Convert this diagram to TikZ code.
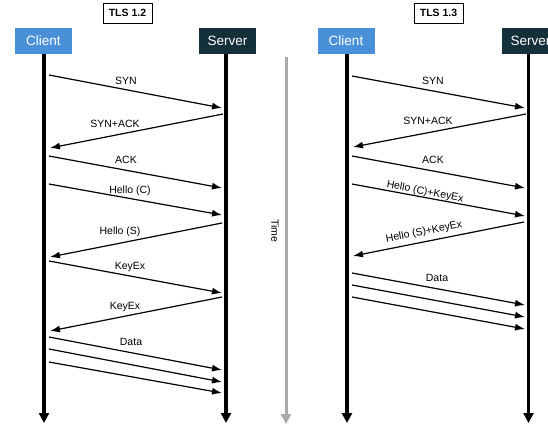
\documentclass[tikz,border=0pt]{standalone}
\usepackage{fontspec}
\setmainfont{Liberation Sans}
\usetikzlibrary{arrows.meta}
\definecolor{cblue}{HTML}{4A90D9}
\definecolor{sdark}{HTML}{14303A}
\definecolor{tgray}{HTML}{AAAAAA}
\tikzset{
  actor/.style={minimum width=57pt, minimum height=26pt, inner sep=0pt, text=white, font=\fontsize{13.5}{15}\selectfont},
  cbox/.style={actor, fill=cblue},
  sbox/.style={actor, fill=sdark},
  title/.style={draw, line width=0.8pt, minimum width=49pt, minimum height=20pt, inner sep=0pt, font=\bfseries\fontsize{10.5}{12}\selectfont},
  life/.style={line width=3.6pt, -{Triangle[length=10pt,width=10pt]}},
  msg/.style={line width=1.2pt, -{Latex[length=10pt,width=7pt]}},
  lbl/.style={font=\fontsize{10.5}{12}\selectfont, inner sep=0pt},
}
\begin{document}
\begin{tikzpicture}[x=1pt,y=-1pt]
\useasboundingbox (0,0) rectangle (548,440);
\clip (0,0) rectangle (548,440);
% ---------- TLS 1.2 ----------
\node[title] (t12) at (127.5,13) {TLS 1.2};
\node[cbox] (c1) at (43.5,41) {Client};
\node[sbox] (s1) at (227.5,41) {Server};
\coordinate (c1e) at (44,423);
\coordinate (s1e) at (226,423);
\draw[life] (c1.south -| c1e) -- (c1e);
\draw[life] (s1.south -| s1e) -- (s1e);
% time
\coordinate (ts) at (286,57);
\coordinate (te) at (286,424);
\draw[line width=3pt, tgray, -{Triangle[length=10pt,width=10pt]}] (ts) -- (te);
\node[lbl, rotate=-90] (time) at (275,231) {Time};
% messages left
\coordinate (a1) at (49,75);  \coordinate (b1) at (222,108);
\coordinate (b2) at (223,114); \coordinate (a2) at (50,148);
\coordinate (a3) at (49,156); \coordinate (b3) at (222,188);
\coordinate (a4) at (49,184); \coordinate (b4) at (222,215);
\coordinate (b5) at (222,223); \coordinate (a5) at (50,257);
\coordinate (a6) at (49,261); \coordinate (b6) at (222,293);
\coordinate (b7) at (222,297); \coordinate (a7) at (50,331);
\coordinate (a8) at (49,337); \coordinate (b8) at (222,370);
\coordinate (a9) at (49,349); \coordinate (b9) at (222,382);
\coordinate (a10) at (49,362); \coordinate (b10) at (222,393);
\draw[msg] (a1) -- (b1);
\draw[msg] (b2) -- (a2);
\draw[msg] (a3) -- (b3);
\draw[msg] (a4) -- (b4);
\draw[msg] (b5) -- (a5);
\draw[msg] (a6) -- (b6);
\draw[msg] (b7) -- (a7);
\draw[msg] (a8) -- (b8);
\draw[msg] (a9) -- (b9);
\draw[msg] (a10) -- (b10);
\node[lbl] (l1) at (126,81) {SYN};
\node[lbl] (l2) at (115,124) {SYN+ACK};
\node[lbl] (l3) at (126,160) {ACK};
\node[lbl] (l4) at (130,191) {Hello (C)};
\node[lbl] (l5) at (120,232) {Hello (S)};
\node[lbl] (l6) at (130,267) {KeyEx};
\node[lbl] (l7) at (125,307) {KeyEx};
\node[lbl] (l8) at (131,342) {Data};
% ---------- TLS 1.3 ----------
\node[title] (t13) at (438.5,13) {TLS 1.3};
\node[cbox] (c2) at (346,41) {Client};
\node[sbox] (s2) at (530.5,41) {Server};
\coordinate (c2e) at (347,423);
\coordinate (s2e) at (528.5,423);
\draw[life] (c2.south -| c2e) -- (c2e);
\draw[life] (s2.south -| s2e) -- (s2e);
\coordinate (p1) at (352,76);  \coordinate (q1) at (525,108);
\coordinate (q2) at (526,114); \coordinate (p2) at (353,147);
\coordinate (p3) at (352,156); \coordinate (q3) at (525,188);
\coordinate (p4) at (352,184); \coordinate (q4) at (525,216);
\coordinate (q5) at (524,222); \coordinate (p5) at (353,256);
\coordinate (p6) at (352,273); \coordinate (q6) at (525,305);
\coordinate (p7) at (352,285); \coordinate (q7) at (525,317);
\coordinate (p8) at (352,297); \coordinate (q8) at (525,329);
\draw[msg] (p1) -- (q1);
\draw[msg] (q2) -- (p2);
\draw[msg] (p3) -- (q3);
\draw[msg] (p4) -- (q4);
\draw[msg] (q5) -- (p5);
\draw[msg] (p6) -- (q6);
\draw[msg] (p7) -- (q7);
\draw[msg] (p8) -- (q8);
\node[lbl] (m1) at (433,81) {SYN};
\node[lbl] (m2) at (428,121) {SYN+ACK};
\node[lbl] (m3) at (433,160) {ACK};
\node[lbl, rotate=-11] (m4) at (425,192) {Hello (C)+KeyEx};
\node[lbl, rotate=11] (m5) at (424,232) {Hello (S)+KeyEx};
\node[lbl] (m6) at (437,278) {Data};
\end{tikzpicture}
\end{document}
